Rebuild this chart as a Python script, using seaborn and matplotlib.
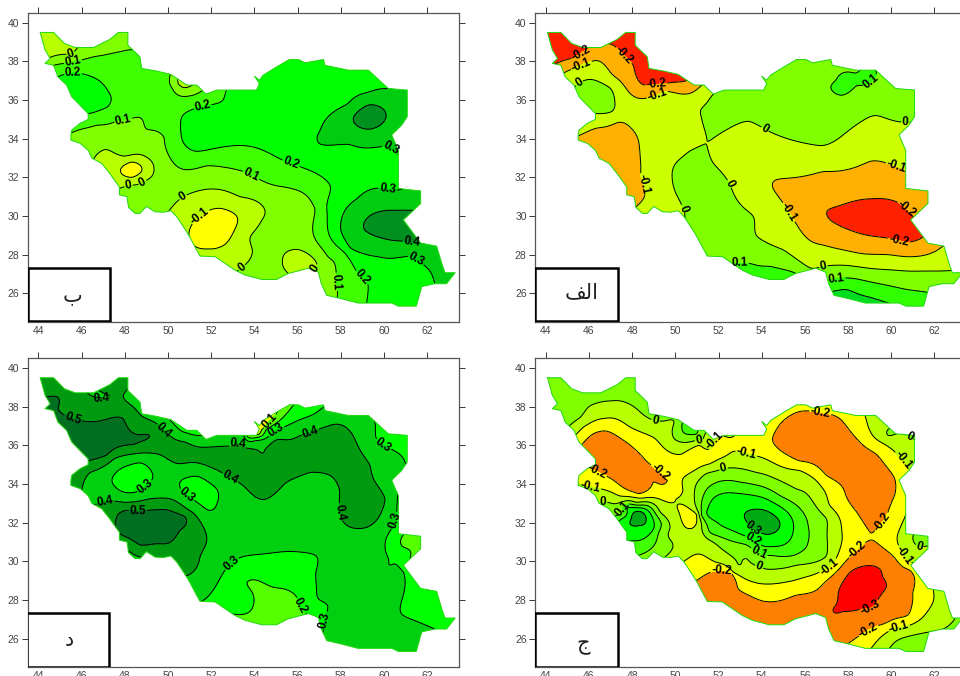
"""
plot.py - four maps of Iran with filled contours, read off the reference picture.
"""

import numpy as np
import matplotlib
matplotlib.use('Agg')
import matplotlib.pyplot as plt
from matplotlib.patches import Polygon, Rectangle
import seaborn as sns

# country outline, lon / lat
outline_lon = [44.08, 44.7, 45.2, 45.7, 46.55, 47.3, 47.7, 48.14, 48.14, 48.7, 48.78, 49.48, 50.13, 50.87, 51.33,
               51.76, 52.26, 54.1, 54.23, 54.0, 54.23, 54.42, 55.03, 55.62, 56.04, 56.35, 57.2, 57.27, 58.35, 59.28,
               60.2, 61.08, 61.08, 60.82, 60.36, 60.67, 60.67, 61.7, 61.7, 60.9, 61.7, 62.44, 62.7, 62.83, 63.3,
               62.9, 62.36, 61.75, 61.5, 60.67, 60.36, 58.8, 57.97, 57.35, 57.1, 56.96, 56.5, 55.57, 55.03, 54.34,
               53.57, 53.1, 52.18, 51.48, 51.25, 51.0, 50.8, 50.4, 50.13, 49.8, 49.4, 49.0, 48.7, 48.47, 48.17,
               48.1, 47.75, 47.75, 47.3, 46.93, 46.47, 46.3, 45.93, 45.5, 45.5, 45.54, 45.93, 46.3, 46.3, 45.54,
               45.3, 44.9, 44.7, 44.3, 44.54, 44.3, 44.08]
outline_lat = [39.5, 39.5, 38.93, 38.72, 38.72, 39.14, 39.5, 39.5, 38.84, 38.24, 37.64, 37.5, 37.33, 36.78, 36.78,
               36.31, 36.52, 36.52, 36.86, 37.24, 37.03, 37.3, 37.72, 38.1, 38.1, 37.93, 38.1, 37.8, 37.55, 37.55,
               36.6, 36.52, 35.14, 34.7, 34.2, 33.4, 31.43, 31.3, 30.65, 29.8, 28.6, 28.45, 27.47, 27.07, 27.07,
               26.5, 26.5, 26.35, 25.34, 25.34, 25.5, 25.5, 25.74, 25.9, 26.5, 27.1, 27.3, 27.03, 26.72, 26.72,
               26.95, 27.2, 27.9, 27.93, 28.4, 28.93, 29.3, 29.97, 30.28, 30.2, 30.22, 30.5, 30.14, 30.14, 30.45,
               31.0, 31.1, 31.5, 32.2, 32.72, 33.0, 33.4, 33.76, 33.93, 34.2, 34.45, 34.8, 35.0, 35.3, 36.17,
               36.78, 37.2, 37.8, 37.9, 38.15, 38.6, 39.5]

xticks = list(range(44, 64, 2))
yticks = list(range(26, 42, 2))

# panel b: value, sampled lon/lat places
b_samples = [
    (0.0, [(44.5, 38.2), (45.5, 38.4), (45.8, 38.7)]),
    (0.1, [(44.7, 37.8), (45.6, 38.0), (46.9, 38.3), (48.2, 38.6)]),
    (0.2, [(44.9, 37.2), (45.5, 37.4), (46.5, 37.2), (47.2, 36.5), (47.2, 35.65), (46.3, 35.3)]),
    (0.1, [(45.5, 34.3), (46.7, 34.7), (47.6, 34.9), (48.7, 35.1), (49.0, 34.5), (49.8, 34.1), (49.9, 33.5),
           (50.8, 32.4), (51.8, 32.6), (53.5, 32.3), (55.4, 31.5), (56.8, 30.4), (56.7, 29.3), (57.4, 27.9),
           (57.8, 26.9), (57.85, 25.9)]),
    (0.2, [(52.7, 36.5), (52.55, 36.0), (51.5, 35.65), (50.65, 35.15), (50.65, 33.95), (51.3, 33.35), (53.3, 33.65),
           (55.3, 32.9), (57.5, 31.6), (57.4, 29.3), (58.7, 27.2), (59.25, 26.5), (59.2, 25.5)]),
    (0.1, [(50.1, 37.3), (50.2, 36.6), (50.9, 36.2), (51.6, 36.5)]),
    (0.0, [(50.45, 36.9), (50.7, 36.65), (51.0, 36.7)]),
    (-0.05, [(50.8, 37.3), (44.7, 39.0), (48.3, 32.95), (56.2, 27.4), (54.0, 30.3)]),
    (0.0, [(46.55, 32.95), (47.1, 33.45), (48.0, 33.1), (49.0, 33.05), (49.35, 32.4), (48.9, 31.8), (48.2, 31.6),
           (47.8, 31.45)]),
    (-0.1, [(47.8, 32.4), (48.3, 32.8), (48.8, 32.4), (48.3, 32.0)]),
    (-0.14, [(48.3, 32.4)]),
    (0.0, [(50.1, 30.35), (50.7, 31.0), (52.1, 31.4), (53.35, 31.0), (54.35, 29.8), (53.8, 28.9), (53.9, 28.3),
           (53.25, 27.2)]),
    (-0.1, [(51.0, 29.3), (51.55, 30.05), (52.4, 30.4), (53.2, 29.6), (52.7, 28.6), (51.85, 28.3), (51.3, 28.4)]),
    (-0.16, [(52.1, 29.4)]),
    (0.0, [(55.55, 27.05), (55.3, 27.7), (55.5, 28.15), (56.1, 28.25), (56.9, 27.45)]),
    (0.3, [(60.2, 36.6), (59.25, 36.4), (58.3, 35.8), (57.05, 34.45), (57.0, 33.75), (58.4, 33.7), (60.0, 33.6),
           (60.7, 33.1)]),
    (0.4, [(58.6, 35.15), (59.3, 35.75), (60.1, 35.15), (59.35, 34.5)]),
    (0.44, [(59.35, 35.15)]),
    (0.35, [(61.0, 35.5), (60.5, 34.5)]),
    (0.3, [(60.7, 31.35), (59.8, 31.45), (58.75, 30.9), (58.0, 29.3), (58.45, 28.35), (59.7, 27.9), (61.2, 27.9),
           (62.1, 27.2), (62.35, 26.5)]),
    (0.4, [(61.2, 30.3), (60.6, 30.3), (59.1, 29.3), (59.95, 28.85), (61.0, 28.7), (61.7, 28.6)]),
    (0.46, [(60.6, 29.5)]),
    (0.35, [(59.0, 30.5), (59.0, 28.6), (62.3, 27.9)]),
    (0.26, [(55.0, 35.0), (58.0, 32.0), (60.0, 32.5), (60.0, 26.5), (61.0, 25.8), (54.0, 36.0), (51.5, 34.5),
            (53.5, 36.4), (55.5, 37.6), (57.5, 37.6), (59.5, 37.3), (56.5, 36.5)]),
    (0.24, [(45.5, 36.8), (46.2, 36.3)]),
    (0.05, [(47.7, 39.2), (46.5, 38.9), (49.0, 31.0), (47.0, 33.8), (52.0, 32.0), (54.5, 31.0), (55.5, 29.0),
            (56.5, 28.5), (57.0, 27.0)]),
    (0.15, [(48.5, 36.0), (50.0, 35.0), (54.0, 32.8), (57.0, 30.5), (58.0, 28.0), (58.5, 26.3),
            (49.0, 37.2), (46.0, 35.0)]),
]
b_levels = [-0.1, 0, 0.1, 0.2, 0.3, 0.4]
b_colors = ['#ffff00', '#b8ff00', '#80ff00', '#40ff00', '#00ff00', '#00cc10', '#009020']
b_labels = [(45.47, 38.45), (45.6, 37.97), (45.6, 37.4), (51.6, 35.65), (47.93, 34.97), (55.7, 32.76), (60.28, 33.4),
            (60.17, 31.43), (53.83, 32.1), (50.7, 30.97), (51.5, 29.97), (48.17, 31.57), (48.8, 31.78),
            (53.33, 27.47), (56.96, 27.17), (57.8, 26.6), (59.0, 26.83), (61.44, 27.64), (61.28, 28.72)]

# panel alef
a_samples = [
    (-0.2, [(44.5, 37.9), (45.3, 38.2), (45.9, 38.6)]),
    (-0.2, [(47.0, 38.9), (47.55, 38.4), (48.05, 37.8), (48.5, 36.8), (49.5, 36.85), (50.5, 37.0)]),
    (-0.25, [(47.8, 39.2), (48.5, 38.0), (49.5, 37.2), (44.7, 39.0)]),
    (-0.1, [(44.9, 37.45), (45.6, 37.8), (46.35, 38.05), (47.1, 37.3), (47.9, 36.35), (48.65, 36.1), (49.55, 36.45),
            (51.05, 36.6)]),
    (-0.15, [(46.4, 38.4), (47.2, 37.9), (49.0, 36.5)]),
    (0.0, [(45.35, 36.7), (46.2, 37.05), (47.0, 36.6), (47.2, 35.9), (47.05, 35.4), (46.35, 35.3)]),
    (0.04, [(46.2, 36.2)]),
    (-0.1, [(45.5, 34.15), (46.35, 34.55), (47.35, 34.85), (47.9, 34.6), (48.3, 33.85), (48.4, 32.05), (48.6, 31.15),
            (48.2, 30.5)]),
    (-0.15, [(47.0, 33.5), (47.9, 32.5), (48.0, 31.2)]),
    (0.0, [(51.75, 36.3), (51.2, 35.55), (51.2, 35.15), (51.85, 34.1), (53.4, 34.9), (54.4, 34.35), (56.85, 33.65),
           (59.25, 35.2), (61.0, 34.85)]),
    (0.05, [(54.0, 35.8), (57.0, 35.6), (60.0, 36.0), (56.0, 37.5), (60.5, 35.7), (59.6, 36.4)]),
    (0.1, [(59.3, 37.45), (58.4, 37.4), (57.45, 37.05), (57.2, 36.7), (57.7, 36.25), (58.4, 36.75), (59.0, 36.9)]),
    (0.13, [(58.0, 37.0), (58.7, 37.15)]),
    (0.0, [(51.6, 33.9), (50.65, 33.35), (50.0, 32.7), (49.85, 32.0), (50.2, 30.8), (50.45, 30.0)]),
    (0.0, [(51.75, 32.75), (52.5, 31.7), (53.6, 30.0), (53.75, 29.0), (55.0, 28.25), (56.3, 27.3)]),
    (0.05, [(51.0, 31.5), (52.0, 30.0), (53.0, 28.5), (54.5, 27.8)]),
    (-0.05, [(50.0, 34.0), (49.5, 35.0), (51.0, 36.0), (49.0, 33.0), (49.2, 31.0), (53.0, 33.0), (55.0, 33.0),
             (53.5, 31.0), (58.0, 33.2), (60.5, 33.7), (62.5, 27.8), (56.0, 28.0), (45.8, 34.9)]),
    (0.1, [(52.7, 27.55), (53.45, 27.55), (54.4, 27.4), (55.55, 27.05)]),
    (0.13, [(54.0, 26.8)]),
    (0.0, [(56.85, 27.4), (57.9, 27.45), (60.2, 27.2), (62.9, 27.2)]),
    (-0.1, [(54.55, 31.8), (56.85, 32.3), (59.1, 32.85), (59.9, 32.7), (60.7, 32.4)]),
    (-0.1, [(55.0, 30.65), (55.6, 29.6), (56.85, 28.5), (58.7, 28.05), (61.0, 27.9), (62.4, 28.45)]),
    (-0.15, [(57.0, 31.0), (59.0, 31.7), (61.0, 31.2), (60.0, 28.4)]),
    (-0.2, [(57.05, 30.3), (57.9, 30.65), (59.15, 30.9), (60.4, 30.65), (60.9, 30.15), (61.55, 29.0), (60.7, 28.65),
            (59.9, 28.85), (58.4, 29.15)]),
    (-0.24, [(59.0, 30.0), (60.3, 29.6)]),
    (0.1, [(57.15, 26.7), (57.9, 26.8), (59.45, 26.5), (61.7, 26.05)]),
    (0.2, [(57.25, 26.1), (57.9, 26.2), (59.0, 25.8), (59.85, 25.5)]),
    (0.23, [(58.3, 25.7)]),
    (0.15, [(60.5, 25.7)]),
    (0.05, [(59.0, 26.95), (61.5, 26.7)]),
]
a_levels = [-0.2, -0.1, 0, 0.1, 0.2]
a_colors = ['#ff2000', '#ffb000', '#ccff00', '#80ff00', '#30ff00', '#00dd20']
a_labels = [(45.62, 38.47), (47.63, 38.33), (45.65, 37.8), (45.47, 37.0), (49.12, 36.78), (49.17, 36.26),
            (59.26, 36.66), (54.14, 34.48), (60.65, 34.83), (60.23, 32.55), (48.5, 31.66), (52.56, 31.69),
            (55.17, 30.14), (50.28, 30.35), (60.77, 30.45), (60.36, 28.76), (52.98, 27.55), (56.87, 27.34),
            (57.46, 26.74)]

# panel dal
d_samples = [
    (0.4, [(46.3, 38.67), (47.3, 38.45), (48.4, 37.98), (49.55, 37.07), (50.1, 36.5), (50.8, 36.17), (53.0, 35.97),
           (54.4, 35.57), (54.95, 36.26), (56.1, 36.5), (57.8, 37.1), (58.6, 36.45), (59.35, 34.97), (60.05, 33.24),
           (59.5, 31.95), (58.8, 31.7), (57.95, 32.7), (57.95, 33.6), (57.5, 34.45), (56.6, 34.6), (55.5, 34.1),
           (54.4, 33.2), (53.5, 33.9), (52.7, 34.45), (51.8, 34.95), (50.55, 35.05), (48.7, 35.6), (47.5, 35.3),
           (46.4, 34.6), (46.0, 33.6)]),
    (0.4, [(46.85, 33.0), (49.0, 33.2), (50.9, 32.7), (51.8, 31.15), (51.5, 30.3), (50.95, 29.3), (48.1, 30.6),
           (48.8, 30.2)]),
    (0.38, [(48.3, 30.25)]),
    (0.5, [(44.3, 38.5), (44.9, 38.5), (44.9, 37.9), (45.55, 37.4), (47.9, 37.4), (49.15, 36.5), (48.4, 36.05),
           (47.15, 35.5), (46.3, 35.2)]),
    (0.54, [(47.0, 36.5), (46.0, 36.5), (47.8, 36.7)]),
    (0.45, [(46.0, 38.0), (47.0, 37.8), (48.5, 37.0), (45.8, 34.6), (49.5, 36.3), (52.0, 35.5), (54.5, 35.0),
            (56.0, 35.5), (58.0, 35.5), (59.0, 33.0), (45.0, 39.0), (47.8, 39.3)]),
    (0.5, [(47.6, 32.2), (48.1, 32.65), (49.15, 32.65), (50.8, 32.3), (50.55, 31.6), (49.8, 30.9), (48.7, 30.85),
           (47.8, 31.4)]),
    (0.54, [(49.3, 31.8), (48.5, 32.0)]),
    (0.45, [(47.5, 32.85), (50.0, 33.0), (51.2, 31.5), (50.6, 30.0), (49.5, 30.5)]),
    (0.3, [(50.1, 37.3), (50.6, 36.75), (51.15, 36.55)]),
    (0.27, [(50.6, 37.0)]),
    (0.3, [(53.55, 36.45), (54.05, 36.25), (54.7, 36.5), (55.35, 36.95), (57.3, 38.07)]),
    (0.2, [(53.65, 36.45), (54.25, 36.45), (54.55, 36.85), (55.8, 38.07)]),
    (0.1, [(54.2, 36.55), (54.5, 36.95), (55.0, 37.6)]),
    (0.05, [(54.2, 36.9), (54.3, 37.2)]),
    (0.15, [(55.2, 37.6)]),
    (0.25, [(56.5, 37.9)]),
    (0.35, [(55.5, 36.6), (57.5, 37.6), (52.0, 36.2), (48.5, 38.5)]),
    (0.3, [(59.6, 37.05), (59.65, 36.35), (60.6, 35.65), (61.0, 35.0)]),
    (0.27, [(60.5, 36.3)]),
    (0.3, [(60.6, 32.9), (60.45, 31.85), (60.05, 30.8), (60.25, 29.8), (60.9, 29.45), (60.8, 27.3), (62.35, 26.5)]),
    (0.33, [(60.4, 33.5), (60.3, 34.4)]),
    (0.35, [(59.5, 31.0), (59.5, 29.0), (59.0, 27.0), (60.0, 26.0), (61.0, 26.0), (58.0, 26.0), (60.0, 34.5)]),
    (0.27, [(61.0, 30.3), (61.5, 28.3), (62.5, 27.0)]),
    (0.2, [(60.85, 31.3), (60.87, 30.75), (61.2, 30.2), (61.7, 30.85)]),
    (0.17, [(61.4, 31.0)]),
    (0.3, [(51.55, 27.93), (52.4, 29.1), (53.35, 30.2), (55.35, 30.5), (56.85, 30.3), (56.85, 29.45), (57.4, 27.7),
           (57.2, 26.7)]),
    (0.27, [(54.0, 30.0), (56.0, 29.5), (52.5, 28.2), (56.5, 27.8), (53.0, 27.7)]),
    (0.2, [(52.9, 27.3), (53.65, 28.9), (54.9, 28.65), (56.0, 28.07), (56.4, 27.3)]),
    (0.17, [(54.5, 27.7), (54.5, 26.9)]),
    (0.3, [(47.4, 34.15), (48.7, 35.1), (49.3, 34.35), (49.0, 33.95), (48.55, 33.6), (48.15, 33.55)]),
    (0.27, [(48.5, 34.3)]),
    (0.3, [(50.55, 34.1), (51.35, 34.4), (52.25, 33.75), (52.25, 32.95), (51.85, 32.65), (51.35, 33.05),
           (50.65, 33.65)]),
    (0.27, [(51.5, 33.6)]),
    (0.35, [(47.0, 34.0), (48.0, 33.25), (50.0, 34.0), (49.8, 33.6), (53.0, 33.0), (53.0, 32.0), (54.0, 31.0),
            (56.0, 32.0), (57.0, 31.0), (52.8, 30.7), (52.0, 29.5), (58.0, 29.0), (58.0, 27.0)]),
]
d_levels = [0.1, 0.2, 0.3, 0.4, 0.5]
d_colors = ['#ffff00', '#55ff00', '#00ff00', '#00d010', '#009a10', '#007020']
d_labels = [(46.93, 38.38), (45.59, 37.38), (49.86, 36.86), (48.6, 32.67), (47.13, 32.95), (48.86, 33.97),
            (50.9, 33.47), (52.87, 34.31), (53.26, 36.31), (55.06, 36.6), (56.58, 36.69), (60.0, 36.09),
            (58.04, 32.55), (60.47, 32.12), (52.95, 29.88), (56.08, 27.67), (57.24, 26.95), (54.73, 37.24)]

# panel jim
c_samples = [
    (0.0, [(45.05, 36.98), (45.6, 37.45), (46.05, 38.05), (47.0, 38.3), (48.2, 37.9), (49.0, 37.3), (49.9, 37.3)]),
    (0.04, [(46.0, 38.5), (47.5, 38.8), (45.0, 38.5), (48.5, 38.2), (49.5, 37.5)]),
    (-0.1, [(45.35, 36.5), (45.75, 36.95), (46.75, 37.4), (47.9, 36.95), (49.0, 36.4), (49.6, 35.75), (50.3, 35.55),
            (51.15, 36.0), (52.45, 36.4)]),
    (-0.05, [(47.0, 37.9), (48.0, 37.4), (49.5, 36.8), (50.3, 35.95), (51.5, 36.4)]),
    (0.0, [(49.95, 37.2), (49.95, 36.35), (50.5, 36.15), (51.45, 36.15)]),
    (0.1, [(50.3, 37.1), (50.35, 36.7), (51.0, 36.6)]),
    (0.12, [(50.8, 36.9)]),
    (0.05, [(50.15, 36.5)]),
    (-0.2, [(45.65, 36.0), (46.2, 36.6), (46.75, 36.75), (47.75, 36.15), (48.65, 35.2), (49.65, 34.25), (48.95, 34.1),
            (48.3, 33.5), (47.25, 34.1), (46.05, 34.8)]),
    (-0.25, [(47.0, 35.5), (48.2, 34.8)]),
    (-0.2, [(50.97, 29.02), (52.6, 29.4), (52.9, 28.6), (54.05, 27.95), (55.6, 28.25), (57.0, 29.0), (58.05, 30.2),
            (59.05, 31.1), (60.85, 29.55), (61.0, 28.4), (60.75, 27.2), (59.45, 26.7), (58.0, 25.75)]),
    (-0.3, [(57.3, 27.55), (57.55, 28.4), (58.1, 29.45), (58.7, 29.75), (59.6, 29.2), (59.75, 28.6), (59.4, 28.05),
            (58.7, 27.55), (57.75, 27.4)]),
    (-0.35, [(58.7, 28.6)]),
    (-0.25, [(56.0, 27.5), (54.0, 27.3), (53.0, 28.0), (60.0, 28.0), (57.0, 28.0), (60.0, 30.0), (59.5, 26.95),
             (52.0, 28.4), (52.5, 27.5), (51.5, 28.3), (55.0, 26.8), (50.7, 28.5)]),
    (-0.1, [(50.45, 30.05), (50.8, 30.3), (51.9, 29.95), (52.65, 29.45), (53.9, 28.85), (55.45, 29.0), (57.2, 29.8),
            (57.7, 31.7), (57.15, 32.9), (55.75, 34.7), (53.6, 35.5), (52.6, 35.65), (51.6, 35.05), (50.65, 34.55),
            (50.35, 33.65), (50.05, 33.25), (48.2, 33.3), (47.1, 33.55), (46.35, 33.8), (45.55, 33.98)]),
    (0.0, [(46.9, 33.05), (48.2, 33.05), (49.3, 32.55), (49.75, 31.7), (49.85, 31.0), (49.6, 30.3)]),
    (0.1, [(47.6, 32.55), (48.65, 32.9), (49.35, 31.95), (49.1, 31.0), (48.5, 30.4)]),
    (0.2, [(47.75, 31.1), (48.5, 31.15), (49.0, 31.7), (48.8, 32.55), (47.75, 32.75)]),
    (0.3, [(47.95, 32.2), (48.3, 32.6), (48.65, 32.2), (48.3, 31.85)]),
    (0.36, [(48.3, 32.2)]),
    (0.25, [(47.6, 32.1)]),
    (-0.1, [(50.2, 32.45), (50.5, 32.85), (51.0, 32.4), (51.0, 32.05), (50.65, 31.7), (50.35, 31.95)]),
    (-0.14, [(50.6, 32.3)]),
    (-0.05, [(50.0, 31.3), (51.2, 31.2), (50.5, 30.7), (50.65, 33.4), (50.7, 34.1), (54.0, 35.0), (56.3, 34.0),
             (57.35, 31.5), (57.3, 30.5), (54.0, 29.3), (47.5, 33.2)]),
    (0.0, [(52.26, 34.8), (53.75, 34.6), (55.6, 33.75), (57.0, 32.2), (57.0, 30.3), (55.6, 29.8), (54.2, 29.6),
           (53.3, 30.15), (51.75, 31.0), (51.0, 32.7), (50.9, 33.75), (51.45, 34.55)]),
    (0.1, [(51.3, 33.4), (51.75, 34.0), (53.0, 34.1), (54.85, 33.4), (56.15, 31.85), (56.15, 31.0), (55.45, 30.3),
           (54.5, 30.3), (53.3, 30.85), (51.6, 31.5), (51.2, 32.4)]),
    (0.2, [(51.5, 32.72), (51.75, 33.25), (52.5, 33.55), (54.05, 33.3), (55.3, 32.4), (55.45, 31.5), (54.85, 30.8),
           (54.05, 30.8), (53.15, 31.35), (51.9, 32.05)]),
    (0.3, [(53.2, 32.4), (53.7, 32.7), (54.5, 32.45), (54.85, 31.95), (54.5, 31.45), (53.9, 31.5), (53.3, 32.05)]),
    (0.36, [(54.0, 32.0)]),
    (-0.2, [(54.5, 36.35), (54.85, 37.1), (55.75, 37.75), (56.7, 37.7), (57.6, 37.4), (58.4, 36.35), (59.3, 35.55),
            (60.15, 34.3), (60.15, 33.4), (59.7, 32.2), (59.1, 31.45), (58.4, 32.55), (57.9, 33.4), (57.0, 34.45),
            (55.75, 35.2), (54.85, 35.75)]),
    (-0.25, [(57.0, 36.0), (58.5, 34.5), (59.0, 33.0), (56.0, 36.5)]),
    (-0.1, [(58.8, 37.5), (59.15, 36.5), (60.3, 35.5), (60.85, 34.7)]),
    (-0.05, [(59.8, 36.3), (60.6, 36.0), (61.0, 35.5)]),
    (0.0, [(59.85, 36.5), (60.05, 36.85), (60.85, 36.45)]),
    (-0.1, [(60.65, 32.35), (60.4, 31.7), (60.35, 30.8), (60.8, 30.0)]),
    (0.0, [(61.0, 31.25), (61.2, 30.8), (61.7, 30.8)]),
    (0.03, [(61.5, 31.2)]),
    (-0.15, [(60.4, 33.0), (59.9, 31.0), (58.2, 31.2), (61.6, 28.0), (61.3, 27.5), (49.8, 34.3), (50.6, 35.0),
             (52.0, 36.0), (53.5, 36.0), (54.0, 36.8), (57.4, 33.6), (45.9, 34.4)]),
    (-0.1, [(61.95, 28.5), (61.85, 27.7), (61.15, 26.85), (60.1, 26.5), (59.1, 25.55)]),
    (0.0, [(62.95, 27.05), (62.4, 26.5), (61.3, 26.25), (60.2, 25.85), (59.95, 25.55)]),
    (-0.05, [(62.2, 27.5)]),
    (0.05, [(61.0, 25.8), (49.4, 31.5), (49.3, 30.6)]),
]
c_levels = [-0.3, -0.2, -0.1, 0, 0.1, 0.2, 0.3]
c_colors = ['#ff0000', '#ff8000', '#ffff00', '#b8ff00', '#80ff00', '#40ff00', '#00ff00', '#00aa15']
c_labels = [(49.08, 37.29), (51.08, 36.4), (51.93, 36.2), (53.29, 35.57), (52.26, 34.67), (49.28, 34.62),
            (46.35, 34.62), (46.04, 33.79), (46.65, 33.02), (47.58, 32.72), (56.72, 37.72), (60.54, 35.22),
            (60.85, 36.43), (59.54, 32.07), (58.43, 30.57), (61.28, 30.62), (60.74, 30.43), (57.07, 29.79),
            (52.13, 29.36), (53.9, 29.79), (53.88, 30.48), (53.6, 31.09), (53.63, 31.72), (59.0, 27.76),
            (58.92, 26.47), (60.39, 26.38)]

WIDTH, HEIGHT = 960, 676
DEG_Y = 19.33


def spline_surface(samples, grid_x, grid_y, smooth=6e-3):
    # thin plate spline through the sampled values
    pts = np.array([[x, y, val] for val, places in samples for x, y in places])
    xy, z = pts[:, :2], pts[:, 2]
    n = len(z)

    def kernel(r2):
        out = np.zeros_like(r2)
        mask = r2 > 0
        out[mask] = 0.5 * r2[mask] * np.log(r2[mask])
        return out

    d2 = ((xy[:, None, :] - xy[None, :, :]) ** 2).sum(-1)
    poly = np.column_stack([np.ones(n), xy])
    A = np.zeros((n + 3, n + 3))
    A[:n, :n] = kernel(d2) + smooth * np.eye(n)
    A[:n, n:] = poly
    A[n:, :n] = poly.T
    coef = np.linalg.solve(A, np.r_[z, 0, 0, 0])

    gx, gy = np.meshgrid(grid_x, grid_y)
    g = np.column_stack([gx.ravel(), gy.ravel()])
    d2 = ((g[:, None, :] - xy[None, :, :]) ** 2).sum(-1)
    zz = kernel(d2) @ coef[:n] + np.column_stack([np.ones(len(g)), g]) @ coef[n:]
    return gx, gy, zz.reshape(gx.shape)


def draw_panel(left, top, samples, levels, colors, labels, letter, letter_xy, box_left, box_top):
    # left/top of the frame and the letter box are given in figure pixels
    width, height = 431.6, 309.3
    ax = fig.add_axes([left / WIDTH, 1 - (top + height) / HEIGHT, width / WIDTH, height / HEIGHT])
    ax.set_xlim(43.5, 63.49)
    ax.set_ylim(24.52, 24.52 + height / DEG_Y)

    gx, gy, field = spline_surface(samples, np.linspace(43.8, 63.5, 260), np.linspace(25, 39.8, 200))
    clip = Polygon(np.column_stack([outline_lon, outline_lat]), closed=True, transform=ax.transData,
                   facecolor='none', edgecolor='none')
    ax.add_patch(clip)

    filled = ax.contourf(gx, gy, field, levels=levels, colors=colors, extend='both')
    filled.set_clip_path(clip)
    lines = ax.contour(gx, gy, field, levels=levels, colors='black', linewidths=0.7, negative_linestyles='solid')
    lines.set_clip_path(clip)
    texts = ax.clabel(lines, fmt=lambda v: f'{round(v, 1):g}', manual=labels, inline=True, inline_spacing=1,
                      fontsize=8.5)
    for t in texts:
        t.set_fontweight('bold')
        t.set_fontfamily('Liberation Sans')
        t.set_color('black')

    sns.lineplot(x=outline_lon, y=outline_lat, sort=False, estimator=None, color='#20d810', linewidth=0.7, ax=ax)

    ax.set_xticks(xticks)
    ax.set_yticks(yticks)
    ax.tick_params(axis='x', top=True, bottom=False, length=4, width=0.7, color='#333333', labelsize=7.5,
                   labelcolor='#444444', pad=-1)
    ax.tick_params(axis='y', left=True, right=True, length=4, width=0.7, color='#333333', labelsize=7.5,
                   labelcolor='#444444', pad=2)
    for side, spine in ax.spines.items():
        spine.set_visible(True)
        spine.set_linewidth(0.9)
        spine.set_color('#555555')

    box = Rectangle((box_left / WIDTH, 1 - (box_top + 53.6) / HEIGHT), 82.6 / WIDTH, 53.6 / HEIGHT,
                    transform=fig.transFigure, facecolor='white', edgecolor='black', linewidth=1.8, zorder=5)
    ax.add_patch(box)
    fig.text(letter_xy[0] / WIDTH, 1 - letter_xy[1] / HEIGHT, letter, fontsize=15, family='DejaVu Sans',
             ha='center', va='center', color='#222222', zorder=6)


sns.set_theme(style='ticks')
plt.rcParams['font.family'] = ['Liberation Sans', 'DejaVu Sans']

fig = plt.figure(figsize=(WIDTH / 100, HEIGHT / 100), dpi=100, facecolor='white')

draw_panel(27.7, 12.7, b_samples, b_levels, b_colors, b_labels, '\u0628', (72.7, 295), 27.7, 267.7)
draw_panel(535, 12.7, a_samples, a_levels, a_colors, a_labels, '\ufed2\ufedf\ufe8d', (581.7, 292), 535, 267.7)
draw_panel(27.7, 358, d_samples, d_levels, d_colors, d_labels, '\u062f', (69, 640), 26.5, 613)
draw_panel(535, 358, c_samples, c_levels, c_colors, c_labels, '\u062c', (583, 645), 535, 613)

fig.savefig('out.png', dpi=100)
